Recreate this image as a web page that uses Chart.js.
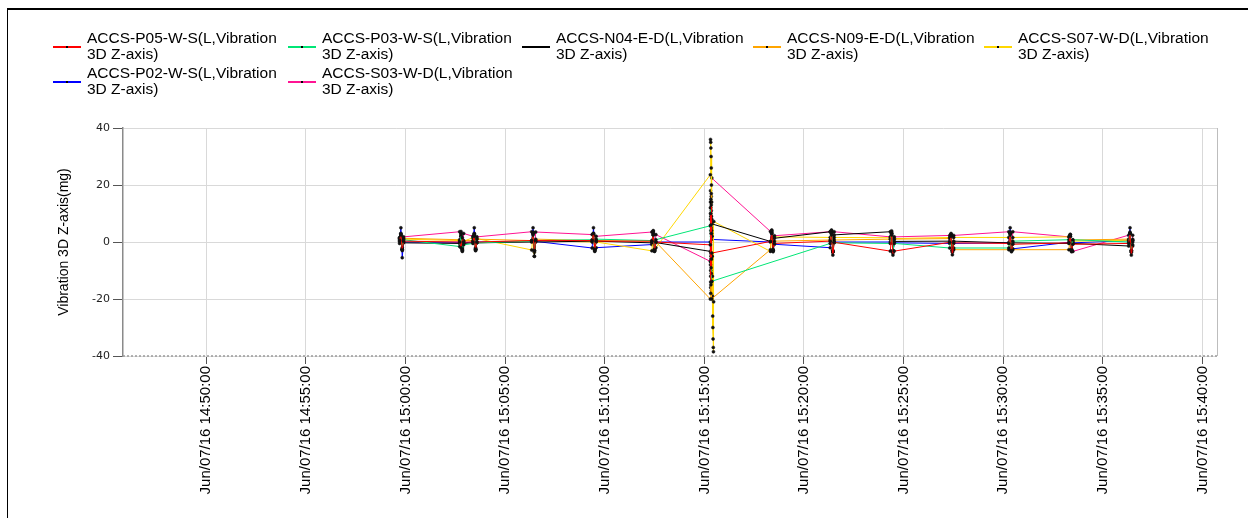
<!DOCTYPE html>
<html lang="en">
<head>
  <meta charset="UTF-8">
  <title>Vibration 3D Z-axis</title>
  <script src="https://cdn.jsdelivr.net/npm/chart.js"></script>
  <style>
    body {
      margin: 0;
      width: 1248px;
      height: 518px;
      overflow: hidden;
      background: #fff;
      font-family: 'Liberation Sans', Arial, sans-serif;
    }
    #frame {
      position: absolute;
      left: 7px;
      top: 8px;
      width: 2000px;
      height: 2000px;
      border-left: 1px solid #000;
      border-top: 2px solid #000;
    }
    #chart {
      position: absolute;
      left: 0;
      top: 0;
    }
    .item {
      position: absolute;
      font-size: 15.5px;
      line-height: 16px;
      color: #000;
    }
    .swatch {
      position: absolute;
      top: 7px;
      width: 28px;
      height: 2px;
    }
    .swatch span {
      position: absolute;
      left: 13px;
      top: 0;
      width: 2px;
      height: 2px;
      background: #000;
    }
    .label {
      position: absolute;
      left: 34px;
      top: -9px;
      white-space: nowrap;
    }
  </style>
</head>
<body>

<div id="frame"></div>
<canvas id="chart" width="1248" height="518"></canvas>
<div id="legend"></div>

<script>
// sensor names and colours, legend order
const names = [
  'ACCS-P05-W-S(L,Vibration 3D Z-axis)',
  'ACCS-P03-W-S(L,Vibration 3D Z-axis)',
  'ACCS-N04-E-D(L,Vibration 3D Z-axis)',
  'ACCS-N09-E-D(L,Vibration 3D Z-axis)',
  'ACCS-S07-W-D(L,Vibration 3D Z-axis)',
  'ACCS-P02-W-S(L,Vibration 3D Z-axis)',
  'ACCS-S03-W-D(L,Vibration 3D Z-axis)'
];
const colors = ['#ff0000', '#00e676', '#000000', '#ffa500', '#ffd700', '#0000ff', '#ff1493'];

// start time of each burst of samples, and seconds between samples in the burst
const clusterTimes = ['14:59:42', '15:02:43', '15:03:23', '15:06:20', '15:09:22', '15:12:22', '15:15:18',
  '15:18:19', '15:21:19', '15:24:20', '15:27:19', '15:30:17', '15:33:18', '15:36:18'];
const clusterStep = [4, 4, 4, 4, 4, 4, 0.55, 4, 4, 4, 4, 4, 4, 4];

// readings (mg), one list per burst
const p05 = [
  [0.5, 2.5, -2.8, 0.3], [0, -2, 1.5, 0], [0, 2, -2.5, 0], [0.5, 2.5, -3, 0.5], [0.5, 3, -2.5, 0.3],
  [0.3, 2.5, -2.8, 0], [-1, 10, -14, 6, -9, 13, -6, 3, -3.9], [0.2, 3, -2.5, -0.5], [0.3, 2.5, -4.6, -0.1],
  [-3.2, 2.5, -4.6, -3.2], [-0.1, 2, -4.5, -0.3], [-0.5, 2.5, -3, -0.8], [-0.3, 2, -2.8, -0.8], [-0.5, 3, -4.6, -1]
];
const p03 = [
  [1, 2, -2, 0.8], [-1.6, 2.5, -2.5, -1], [-0.5, 2.5, -2, -0.3], [0.3, 3, -3, 0.5], [0.8, 2.5, -2.5, 1],
  [0.5, 3, -2.5, 0.8], [5.7, -8, 12, -15, 3, -11, 9, -5, -13.8], null, [-0.5, 3, -3, -0.3],
  [-0.5, 2.5, -3, -0.5], [-2.1, 2, -3, -2.1], [-2.1, 3, -3, 0.3], [0.8, 2, -2.5, 0.8], [0, 3, -3, 0]
];
const n04 = [
  [-0.5, 3, -3, -0.3], [-0.5, 3, -3, -0.5], [-0.3, 3, -3, -0.3], [0, 3.5, -5, 0], [0.3, 3, -3, 0.3],
  [-0.3, 3.5, -3.3, -0.2], [-3.3, 8, -10, 15, -5, 11, -14, 2, 6.4], [0.2, 4, -3.4, 1.3], [3.6, 4.2, -3.5, 2.5],
  [3.6, 3.9, -3.8, 0.2], [0.3, 3, -3.5, 0.3], [-0.3, 3.5, -3.4, -0.3], [-0.5, 2.7, -3, -0.5], [-1.4, 3.5, -3.5, -1.4]
];
const n09 = [
  [1.5, 2.5, -2.5, 1.3], [0.8, 2, -2, 0.5], [0.5, 2.5, -2.5, 1], [0.5, 3, -3, 1], [0.5, 2.5, -2, 0.5],
  [0.3, 2.5, -2.5, 0], [-20, 14, -18, 9, -6, 17, -12, 4, -20], [-2.7, 3, -3, 0.3], [0.7, 3, -3, 0.7],
  [1, 3, -3, 1], [1.2, 2.5, -3, -2.7], [-2.7, 3, -3, -2.7], [-2.7, 2, -3, 0.7], [1, 3, -3, 1]
];
const s07 = [
  [1.2, 2.5, -2.5, 1], [0.5, 2, -2.5, 0.3], [1.5, 2.5, -2.5, 1.2], [-2.8, 3, -5, 0.5], [0, 2.5, -2.5, 0],
  [-3.1, 2.5, -3.2, -2],
  [23.6, 36, 35, 33, 30, 26, 20, 14, 8, 2, -5, -12, -19, -26, -30, -34, -37, -38.5, -21, 7.2],
  [-3.3, 3.5, -3, 1.8], [1.6, 3.5, -3.5, 1.6], [1.5, 3, -3.5, 1.2], [1.6, 2.5, -3, 1.6],
  [1.6, 3, -3, 1.6], [1.8, 2.5, -3, 0.3], [0.6, 3, -3, 0.6]
];
const p02 = [
  [0.2, 5, -5.5, 0], [-0.1, 3.7, -3, -0.3], [0, 5, -3, 0], [0.3, 5, -3.5, 0.2], [-2.1, 5, -3, -2],
  [-0.9, 4, -3, 0], [0, 12, -16, 4, -7, 16, -10, 7, 0.9], [0, 4.2, -3, -0.8], [-2, 4, -3.5, 0],
  [0, 3.5, -3.5, -0.3], [-0.5, 2.5, -3.5, -0.5], [-0.3, 5, -3, -2.4], [-0.1, 2.5, -3, -0.3], [0.5, 5, -3.5, 0.5]
];
const s03 = [
  [1.5, 3, -2.5, 1.8], [3.6, 3, -3.3, 3], [2, 3, -2.5, 1.8], [3.6, 3.5, -3.5, 3.5], [2.6, 3, -3.3, 2],
  [3.5, 3.8, -3, 2.6], [-6.8, 18, -12, 10, -4, 14, -17, 5, 22.5], [3.7, 3.5, -3, 2.2], [3.6, 3.8, -3.5, 3.6],
  [1.8, 3, -3.5, 1.8], [2.3, 2.8, -3, 2.3], [3.6, 3.5, -3, 3.6], [1.8, 2.5, -3.4, -3.3], [2.4, 3, -3.5, 2.4]
];
const series = [p05, p03, n04, n09, s07, p02, s03];

// axis range and ticks
const xMin = '14:45:49';
const xMax = '15:40:44';
const xTicks = ['14:50:00', '14:55:00', '15:00:00', '15:05:00', '15:10:00', '15:15:00',
  '15:20:00', '15:25:00', '15:30:00', '15:35:00', '15:40:00'];
const yTicks = [-40, -20, 0, 20, 40];

function toSec(t) {
  const p = t.split(':').map(Number);
  return p[0] * 3600 + p[1] * 60 + p[2];
}
function pad(n) { return String(n).padStart(2, '0'); }
function fmt(s) {
  return 'Jun/07/16 ' + pad(Math.floor(s / 3600)) + ':' + pad(Math.floor(s / 60) % 60) + ':' + pad(s % 60);
}

function points(bursts) {
  const out = [];
  bursts.forEach((vals, c) => {
    if (!vals) return;
    const t0 = toSec(clusterTimes[c]);
    vals.forEach((v, k) => out.push({ x: t0 + k * clusterStep[c], y: v }));
  });
  return out;
}

// legend
const legendCols = [53, 288, 522, 753, 984];
const legendRows = [39, 74];
const legend = document.getElementById('legend');
names.forEach((n, i) => {
  const item = document.createElement('div');
  item.className = 'item';
  item.style.left = legendCols[i % 5] + 'px';
  item.style.top = legendRows[Math.floor(i / 5)] + 'px';
  const cut = n.indexOf(' ');
  item.innerHTML = '<div class="swatch" style="background:' + colors[i] + '"><span></span></div>' +
    '<div class="label">' + n.slice(0, cut) + '<br>' + n.slice(cut + 1) + '</div>';
  legend.appendChild(item);
});

// right edge of the plot and the dotted bottom axis
const frameLine = {
  id: 'frameLine',
  afterDraw(chart) {
    const a = chart.chartArea, c = chart.ctx;
    c.save();
    c.strokeStyle = '#bdbdbd';
    c.lineWidth = 1;
    c.beginPath();
    c.moveTo(a.right + 0.5, a.top);
    c.lineTo(a.right + 0.5, a.bottom);
    c.stroke();
    c.strokeStyle = '#9a9a9a';
    c.lineWidth = 1.5;
    c.setLineDash([2, 2]);
    c.beginPath();
    c.moveTo(a.left, a.bottom);
    c.lineTo(a.right + 1, a.bottom);
    c.stroke();
    c.restore();
  }
};

new Chart(document.getElementById('chart'), {
  type: 'line',
  data: {
    datasets: series.map((s, i) => ({
      label: names[i],
      data: points(s),
      borderColor: colors[i],
      backgroundColor: colors[i],
      borderWidth: 1,
      tension: 0,
      pointRadius: 1.5,
      pointBackgroundColor: '#111',
      pointBorderColor: '#111',
      pointBorderWidth: 0.5,
      fill: false
    }))
  },
  options: {
    responsive: false,
    animation: false,
    layout: { padding: { top: 128, right: 31, left: 0, bottom: 0 } },
    plugins: {
      legend: { display: false },
      tooltip: { enabled: false }
    },
    scales: {
      x: {
        type: 'linear',
        min: toSec(xMin),
        max: toSec(xMax),
        afterFit: s => { s.height = 162; },
        afterBuildTicks: s => { s.ticks = xTicks.map(t => ({ value: toSec(t) })); },
        ticks: {
          autoSkip: false,
          maxRotation: 90,
          minRotation: 90,
          padding: 2,
          color: '#000',
          font: { family: 'Liberation Sans', size: 15 },
          callback: v => fmt(v)
        },
        grid: { color: '#d9d9d9', tickLength: 8, tickColor: '#555' },
        border: { display: false }
      },
      y: {
        min: yTicks[0],
        max: yTicks[yTicks.length - 1],
        afterFit: s => { s.width = 123; },
        afterBuildTicks: s => { s.ticks = yTicks.map(v => ({ value: v })); },
        ticks: {
          padding: 3,
          color: '#222',
          font: { family: 'DejaVu Sans', size: 11 }
        },
        grid: { color: '#d9d9d9', tickLength: 10, tickColor: '#555' },
        border: { color: '#8a8a8a', width: 1.5 },
        title: {
          display: true,
          text: 'Vibration 3D Z-axis(mg)',
          color: '#000',
          font: { family: 'Liberation Sans', size: 14 },
          padding: { top: 56, bottom: 0 }
        }
      }
    }
  },
  plugins: [frameLine]
});
</script>

</body>
</html>
